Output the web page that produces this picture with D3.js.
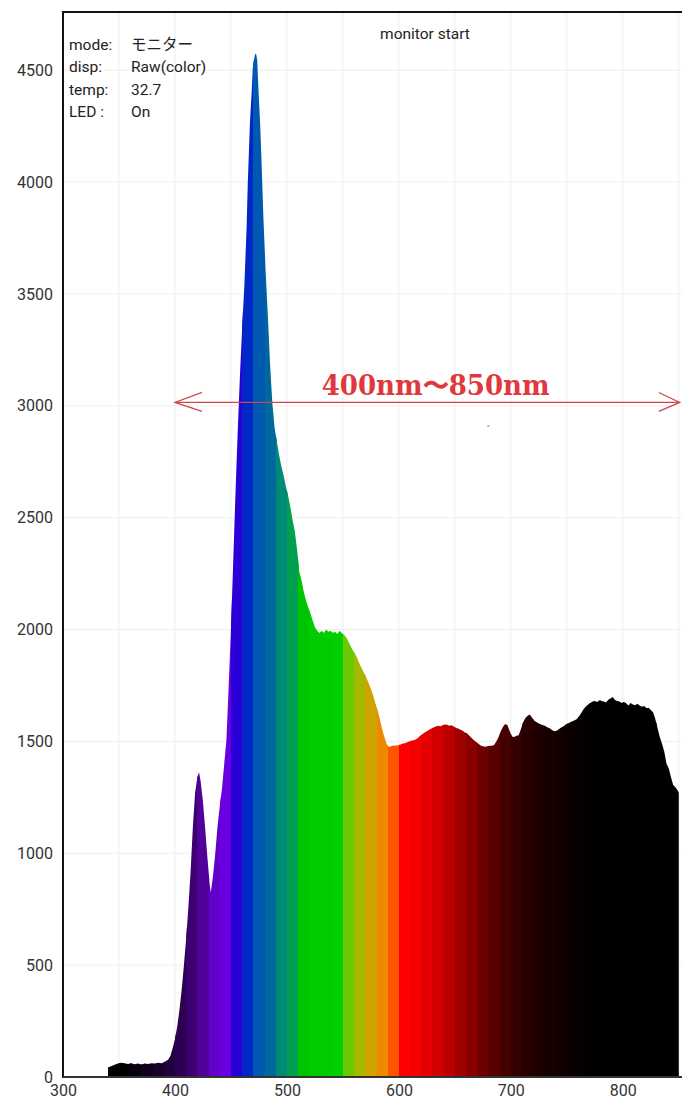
<!DOCTYPE html>
<html>
<head>
<meta charset="utf-8">
<script src="https://cdn.jsdelivr.net/npm/d3@7"></script>
<style>
  html, body { margin: 0; padding: 0; background: #fff; }
  svg text { font-family: Roboto, "Noto Sans CJK JP", sans-serif; }
</style>
</head>
<body>
<div id="chartDiv"></div>
<script>
// spectrum readout (wavelength nm -> raw count)
var wavelengths = [340,343,346,349,352,355,358,361,364,367,370,373,376,379,382,385,388,391,394,396,398,
  400,402,404,406,408,410,412,414,416,418,420,421.5,423,425,427,429,431,432,434,436,438,440,442,444,446,448,
  450,452,454,456,458,460,462,464,465,466,467,468.5,469.5,470.5,471.5,472.3,473,473.5,474.7,476,477,478,479,
  481,483,485,487,489,491,493,495,497,499,501,503,505,507,509,511,513,515,517,519,521,523,525,527,529,
  531,533,535,537,539,541,543,545,547,549,551,553,555,557,559,561,563,565,567,569,571,573,575,577,579,
  581,583,585,587,589,591,593,595,597,599,601,603,605,607,609,611,613,615,617,619,621,623,625,627,629,
  631,633,635,637,639,641,643,645,647,649,651,653,655,657,659,661,663,665,667,669,671,673,675,677,679,
  681,683,685,687,689,691,693,695,697,699,701,703,705,707,709,711,713,715,717,719,721,723,725,727,729,
  731,733,735,737,739,741,743,745,747,749,751,753,755,757,759,761,763,765,767,769,771,773,775,777,779,
  781,783,785,787,789,791,793,795,797,799,801,803,805,807,809,811,813,815,817,819,821,823,825,827,829,
  831,833,835,837,839,841,843,845,847,849,850];
var counts = [42,48,55,60,64,62,58,62,57,60,56,60,58,62,60,64,62,68,78,95,130,
  170,225,300,390,500,620,760,920,1120,1270,1340,1362,1320,1230,1110,980,860,825,900,1000,1120,1210,1290,1400,1510,1750,
  2000,2300,2600,2880,3130,3350,3540,3800,3990,4130,4270,4400,4510,4545,4570,4575,4560,4540,4400,4270,4140,3990,3840,
  3600,3400,3180,3010,2900,2840,2780,2730,2690,2640,2600,2550,2490,2440,2360,2260,2220,2170,2130,2100,2070,2040,2010,1995,1985,
  1995,1985,2000,1990,1995,1985,1990,1980,1995,1985,1975,1965,1945,1925,1905,1890,1870,1845,1825,1805,1785,1760,1735,1705,1670,
  1640,1600,1555,1520,1490,1475,1478,1482,1480,1483,1485,1490,1492,1495,1500,1503,1505,1508,1515,1525,1532,1540,1545,1552,1558,
  1562,1566,1570,1568,1572,1576,1574,1570,1572,1566,1560,1558,1552,1548,1540,1535,1525,1515,1505,1497,1490,1482,1478,1476,1478,
  1480,1481,1484,1500,1520,1545,1565,1578,1572,1545,1522,1520,1525,1528,1555,1585,1605,1615,1620,1605,1592,1585,1580,1575,1572,
  1568,1562,1558,1550,1545,1548,1555,1562,1568,1575,1580,1585,1590,1595,1600,1612,1628,1645,1656,1665,1672,1678,1680,1676,1684,
  1680,1678,1674,1686,1692,1698,1685,1680,1678,1672,1676,1670,1660,1672,1665,1662,1668,1660,1655,1658,1648,1650,1640,1630,1600,
  1560,1520,1490,1455,1400,1380,1340,1305,1295,1280,1270];

// colour of each 10 nm band, starting at bandStarts[i]
var bandStarts = d3.range(340, 850, 10);
var bandColors = ['#000000','#030005','#08000e','#10001c','#18002a','#22003c','#2e0052','#3d0070','#52009a','#6200cc',
  '#6a00e0','#2a00d8','#0028c8','#0058b0','#00689c','#008a78','#00a050','#00c400','#00cc00','#00cc00',
  '#00d000','#6cc800','#a4b800','#d0a400','#f08800','#ff5400','#ff0000','#f40000','#e40000','#d00000',
  '#ba0000','#a00000','#880000','#6e0000','#580000','#440000','#340000','#280000','#1e0000','#160000',
  '#100000','#0a0000','#050000','#000000','#000000','#000000','#000000','#000000','#000000','#000000','#000000'];

var xTicks = [300, 400, 500, 600, 700, 800];
var yTicks = [0, 500, 1000, 1500, 2000, 2500, 3000, 3500, 4000, 4500];
var xGrid = d3.range(300, 900, 50);
var legendKeys = ['mode:', 'disp:', 'temp:', 'LED :'];
var legendValues = ['モニター', 'Raw(color)', '32.7', 'On'];
var titleText = 'monitor start';
var rangeLabel = '400nm〜850nm';
var rangeFrom = 400, rangeTo = 850, rangeLevel = 3015;

function buildChart() {
  var w = 682, h = 1099,
    padL = 63, padT = 12, axisY = 1077, padR = 690;

  var svg = d3.select('#chartDiv').append('svg')
    .attr('width', w)
    .attr('height', h);

  var xScale = d3.scaleLinear().domain([300, 860]).range([padL, padR]);
  var yScale = d3.scaleLinear().domain([0, 4760]).range([axisY, padT]);

  // grid
  svg.append('g').selectAll('line')
    .data(xGrid).enter().append('line')
      .attr('x1', function(d) { return xScale(d); })
      .attr('x2', function(d) { return xScale(d); })
      .attr('y1', padT).attr('y2', axisY)
      .attr('stroke', '#eeeeee').attr('stroke-width', 1);
  svg.append('g').selectAll('line')
    .data(yTicks).enter().append('line')
      .attr('x1', padL).attr('x2', w)
      .attr('y1', function(d) { return yScale(d); })
      .attr('y2', function(d) { return yScale(d); })
      .attr('stroke', '#eeeeee').attr('stroke-width', 1);

  // spectrum shape used as a clip for the coloured bands
  var spectrum = wavelengths.map(function(d, i) { return { nm: d, v: counts[i] }; });
  var area = d3.area()
    .x(function(d) { return xScale(d.nm); })
    .y0(yScale(0))
    .y1(function(d) { return yScale(d.v); });

  svg.append('clipPath').attr('id', 'specClip')
    .append('path').datum(spectrum).attr('d', area);

  svg.append('g').attr('clip-path', 'url(#specClip)')
    .selectAll('rect').data(bandStarts).enter().append('rect')
      .attr('x', function(d) { return xScale(d); })
      .attr('width', function(d) { return xScale(d + 10) - xScale(d) + 0.8; })
      .attr('y', padT)
      .attr('height', axisY - padT)
      .attr('shape-rendering', 'crispEdges')
      .attr('fill', function(d, i) { return bandColors[i]; });

  // axes
  var xAxis = d3.axisBottom(xScale).tickValues(xTicks).tickSize(0).tickPadding(8)
    .tickFormat(d3.format('d'));
  var gx = svg.append('g').attr('transform', 'translate(0,' + axisY + ')').call(xAxis);
  gx.select('.domain').remove();
  gx.selectAll('text').attr('font-size', 16).attr('fill', '#333')
    .style('font-family', 'Roboto, sans-serif');

  var yAxis = d3.axisLeft(yScale).tickValues(yTicks).tickSize(0).tickPadding(10)
    .tickFormat(d3.format('d'));
  var gy = svg.append('g').attr('transform', 'translate(' + padL + ',0)').call(yAxis);
  gy.select('.domain').remove();
  gy.selectAll('text').attr('font-size', 16).attr('fill', '#333')
    .style('font-family', 'Roboto, sans-serif');

  // frame
  svg.append('line').attr('x1', padL).attr('x2', w).attr('y1', padT).attr('y2', padT)
    .attr('stroke', '#111').attr('stroke-width', 2);
  svg.append('line').attr('x1', padL).attr('x2', padL).attr('y1', padT - 1).attr('y2', axisY + 1)
    .attr('stroke', '#111').attr('stroke-width', 2);
  svg.append('line').attr('x1', padL).attr('x2', w).attr('y1', axisY).attr('y2', axisY)
    .attr('stroke', '#333').attr('stroke-width', 2);

  // info block
  var info = svg.append('g').attr('font-size', 15.5).attr('fill', '#222');
  info.selectAll('text.k').data(legendKeys).enter().append('text')
    .attr('class', 'k')
    .attr('x', 69).attr('y', function(d, i) { return 50 + i * 22.4; })
    .text(function(d) { return d; });
  info.selectAll('text.v').data(legendValues).enter().append('text')
    .attr('class', 'v')
    .attr('x', 131).attr('y', function(d, i) { return 50 + i * 22.4; })
    .text(function(d) { return d; });

  svg.append('text').attr('x', 425).attr('y', 39)
    .attr('text-anchor', 'middle').attr('font-size', 15.5).attr('fill', '#222')
    .text(titleText);

  // range annotation
  var ay = yScale(rangeLevel), ax1 = xScale(rangeFrom), ax2 = xScale(rangeTo);
  var arrow = svg.append('g').attr('stroke', '#d0454a').attr('stroke-width', 1.2).attr('fill', 'none');
  arrow.append('line').attr('x1', ax1).attr('x2', ax2 + 1).attr('y1', ay).attr('y2', ay);
  arrow.append('path').attr('d', 'M' + (ax1 + 27) + ',' + (ay - 10) + 'L' + ax1 + ',' + ay + 'L' + (ax1 + 27) + ',' + (ay + 9));
  arrow.append('path').attr('d', 'M' + (ax2 - 20) + ',' + (ay - 10) + 'L' + (ax2 + 1) + ',' + ay + 'L' + (ax2 - 20) + ',' + (ay + 9));

  svg.append('text')
    .attr('x', xScale(531)).attr('y', yScale(3050))
    .attr('font-size', 27).attr('font-weight', 'bold').attr('fill', '#e0383c')
    .attr('textLength', 228).attr('lengthAdjust', 'spacingAndGlyphs')
    .style('font-family', '"DejaVu Serif", "Liberation Serif", serif')
    .text(rangeLabel);

  svg.append('rect').attr('x', xScale(679)).attr('y', yScale(2912))
    .attr('width', 2).attr('height', 1).attr('fill', '#666');
}

buildChart();
</script>
</body>
</html>
